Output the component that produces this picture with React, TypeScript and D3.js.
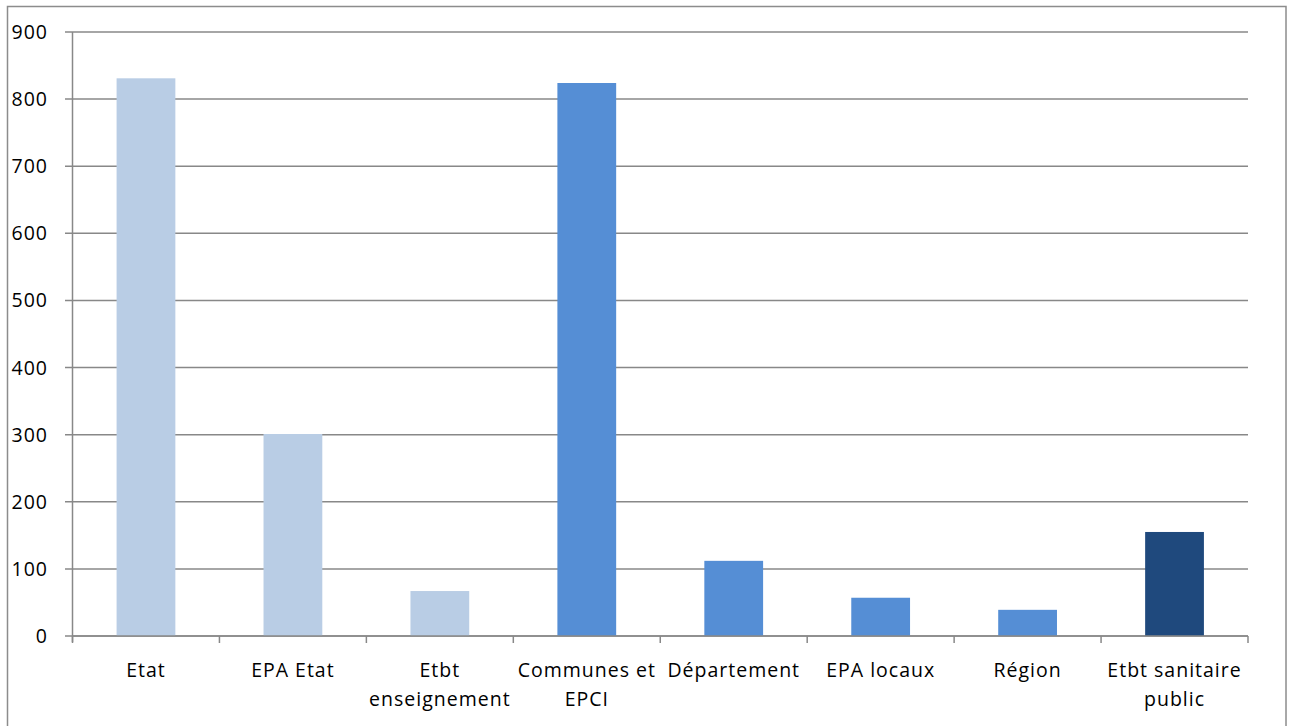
import React from "react";
import * as d3 from "d3";

const categories: string[][] = [
  ["Etat"],
  ["EPA Etat"],
  ["Etbt", "enseignement"],
  ["Communes et", "EPCI"],
  ["Département"],
  ["EPA locaux"],
  ["Région"],
  ["Etbt sanitaire", "public"],
];
const values: number[] = [831, 301, 67, 824, 112, 57, 39, 155];
const groups: number[] = [0, 0, 0, 1, 1, 1, 1, 2];
const groupColors: string[] = ["#B9CDE5", "#558ED5", "#1F497D"];
const yTicks: number[] = [0, 100, 200, 300, 400, 500, 600, 700, 800, 900];

export default function App() {
  const W = 1293, H = 726;
  const left = 72.5, right = 1248, top = 32, bottom = 636;
  const x = d3.scaleBand<number>().domain(d3.range(categories.length)).range([left, right]).paddingInner(0.6).paddingOuter(0.3);
  const xo = d3.scaleBand<number>().domain(d3.range(categories.length)).range([left, right]);
  const y = d3.scaleLinear().domain([0, 900]).range([bottom, top]);
  const font = "'Open Sans', Lato, sans-serif";
  const grid = "#888888";
  return (
    <svg width={W} height={H} style={{ position: "absolute", left: 0, top: 0, background: "#fff" }} fontFamily={font}>
      <rect x={7.5} y={6.5} width={1278.5} height={730} fill="#fff" stroke="#8c8c8c" strokeWidth={1.5} />
      {yTicks.map((t) => (
        <g key={t}>
          <line x1={65} x2={right} y1={y(t)} y2={y(t)} stroke={grid} strokeWidth={1.5} />
          <text x={48} y={y(t)} dy="0.36em" textAnchor="end" fontSize={19.5} letterSpacing={1} fill="#000">{t}</text>
        </g>
      ))}
      {values.map((v, i) => (
        <rect key={i} x={x(i)} y={y(v)} width={x.bandwidth()} height={y(0) - y(v)} fill={groupColors[groups[i]]} />
      ))}
      <line x1={left} x2={left} y1={top} y2={bottom + 6} stroke={grid} strokeWidth={1.5} />
      <line x1={left} x2={right} y1={bottom} y2={bottom} stroke={grid} strokeWidth={1.5} />
      {d3.range(categories.length + 1).map((i) => {
        const xx = left + i * xo.step();
        return <line key={i} x1={xx} x2={xx} y1={bottom} y2={bottom + 7} stroke={grid} strokeWidth={1.5} />;
      })}
      {categories.map((lines, i) => (
        <text key={i} x={(xo(i) as number) + xo.bandwidth() / 2} y={677} textAnchor="middle" fontSize={19.5} letterSpacing={1} fill="#000">
          {lines.map((l, j) => (
            <tspan key={j} x={(xo(i) as number) + xo.bandwidth() / 2} dy={j === 0 ? 0 : 29}>{l}</tspan>
          ))}
        </text>
      ))}
    </svg>
  );
}
